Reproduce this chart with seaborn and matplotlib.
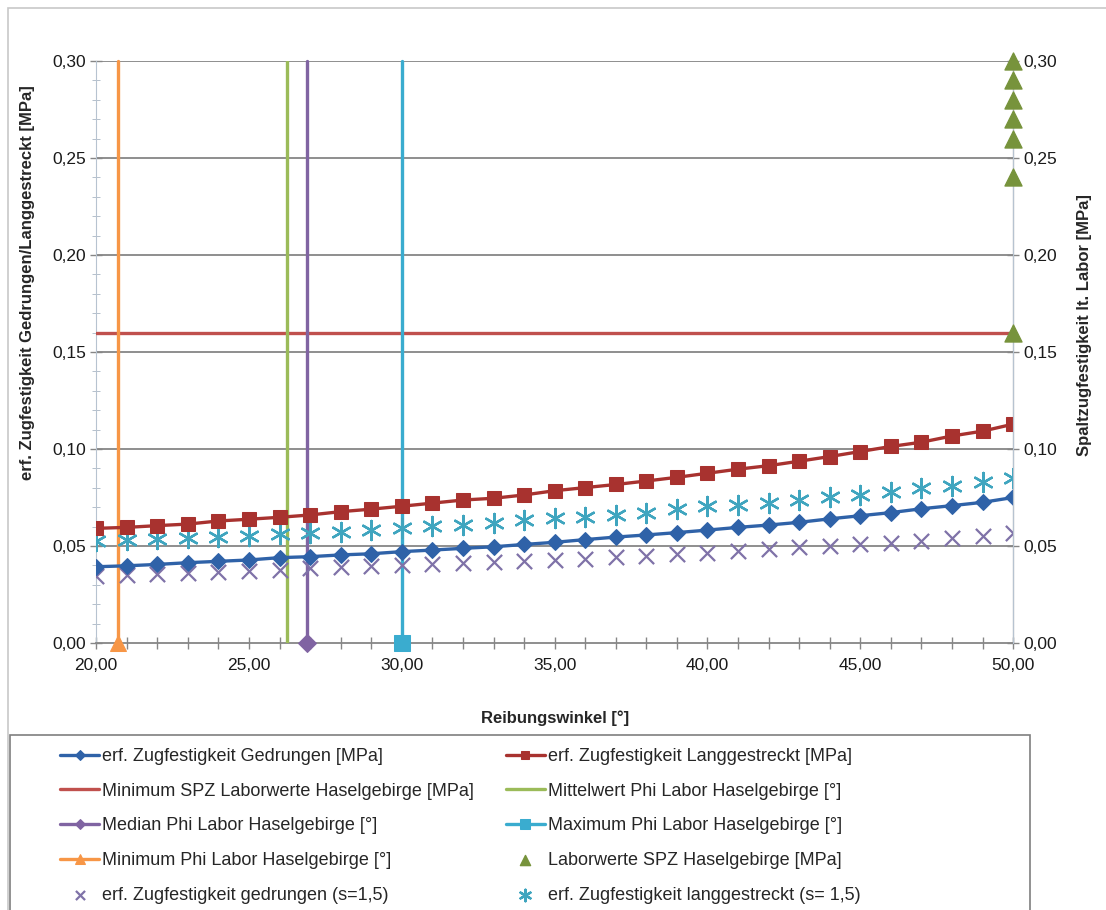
import numpy as np
import pandas as pd
import seaborn as sns
from matplotlib import pyplot as plt
from matplotlib.ticker import MultipleLocator, FuncFormatter
from matplotlib.patches import Rectangle

# friction angle [deg]
winkel = list(range(20, 51))

# required tensile strength, compact / elongated [MPa]
zug_gedrungen = [0.0393, 0.0398, 0.0405, 0.0414, 0.0421, 0.0428, 0.0440, 0.0445, 0.0454, 0.0460,
                 0.0471, 0.0479, 0.0488, 0.0496, 0.0508, 0.0519, 0.0533, 0.0546, 0.0557, 0.0569,
                 0.0582, 0.0596, 0.0608, 0.0622, 0.0640, 0.0656, 0.0672, 0.0692, 0.0708, 0.0725,
                 0.0750]
zug_langgestreckt = [0.0591, 0.0596, 0.0605, 0.0613, 0.0629, 0.0638, 0.0648, 0.0660, 0.0677, 0.0690,
                     0.0705, 0.0721, 0.0737, 0.0746, 0.0763, 0.0785, 0.0801, 0.0817, 0.0835, 0.0854,
                     0.0875, 0.0896, 0.0914, 0.0937, 0.0961, 0.0987, 0.1013, 0.1035, 0.1067, 0.1092,
                     0.1128]
# with safety factor s=1,5
zug_gedrungen_s = [0.0345, 0.0350, 0.0356, 0.0363, 0.0368, 0.0373, 0.0377, 0.0385, 0.0392, 0.0397,
                   0.0402, 0.0407, 0.0414, 0.0419, 0.0424, 0.0428, 0.0433, 0.0442, 0.0447, 0.0457,
                   0.0466, 0.0476, 0.0483, 0.0493, 0.0500, 0.0510, 0.0517, 0.0527, 0.0540, 0.0552,
                   0.0566]
zug_langgestreckt_s = [0.0528, 0.0531, 0.0534, 0.0540, 0.0548, 0.0552, 0.0562, 0.0566, 0.0574, 0.0583,
                       0.0595, 0.0603, 0.0610, 0.0620, 0.0634, 0.0643, 0.0651, 0.0660, 0.0672, 0.0690,
                       0.0705, 0.0711, 0.0720, 0.0737, 0.0754, 0.0763, 0.0780, 0.0797, 0.0811, 0.0832,
                       0.0849]

# lab values
min_spz = 0.16
phi_mittel = 26.25
phi_median = 26.9
phi_max = 30.0
phi_min = 20.7
labor_spz = [0.30, 0.29, 0.28, 0.27, 0.26, 0.24, 0.16]
labor_x = [50] * len(labor_spz)

x_lim = (20, 50)
y_lim = (0, 0.30)

df = pd.DataFrame({"winkel": winkel,
                   "ged": zug_gedrungen, "lang": zug_langgestreckt,
                   "ged_s": zug_gedrungen_s, "lang_s": zug_langgestreckt_s})

sns.set_style("ticks")
plt.rcParams["font.family"] = ["Liberation Sans", "DejaVu Sans"]

fig = plt.figure(figsize=(11.06, 9.10), dpi=100)
ax = fig.add_axes([0.087, 0.2934, 0.829, 0.6396])
ax2 = ax.twinx()

gray = "#868686"
for y in np.arange(0.05, 0.301, 0.05):
    ax.axhline(y, color=gray, lw=1.3, zorder=0)

c_blue = "#2F62A8"
c_red = "#A8322F"
lw = 2.4

sns.lineplot(data=df, x="winkel", y="ged", ax=ax, color=c_blue, lw=lw, marker="D",
             markersize=8, markeredgecolor=c_blue, estimator=None,
             label="erf. Zugfestigkeit Gedrungen [MPa]", zorder=5)
sns.lineplot(data=df, x="winkel", y="lang", ax=ax, color=c_red, lw=lw, marker="s",
             markersize=10, markeredgecolor=c_red, estimator=None,
             label="erf. Zugfestigkeit Langgestreckt [MPa]", zorder=5)
sns.lineplot(x=list(x_lim), y=[min_spz, min_spz], ax=ax, color="#C0504D", lw=lw,
             estimator=None, label="Minimum SPZ Laborwerte Haselgebirge [MPa]", zorder=4)
sns.lineplot(x=[phi_mittel, phi_mittel], y=list(y_lim), ax=ax, color="#9BBB59", lw=lw,
             estimator=None, sort=False, label="Mittelwert Phi Labor Haselgebirge [°]", zorder=4)
sns.lineplot(x=[phi_median, phi_median], y=list(y_lim), ax=ax, color="#8064A2", lw=lw,
             marker="D", markersize=9, markevery=[0], markeredgecolor="#8064A2", clip_on=False,
             estimator=None, sort=False, label="Median Phi Labor Haselgebirge [°]", zorder=4)
sns.lineplot(x=[phi_max, phi_max], y=list(y_lim), ax=ax, color="#3AACCF", lw=lw,
             marker="s", markersize=11, markevery=[0], markeredgecolor="#3AACCF", clip_on=False,
             estimator=None, sort=False, label="Maximum Phi Labor Haselgebirge [°]", zorder=4)
sns.lineplot(x=[phi_min, phi_min], y=list(y_lim), ax=ax, color="#F79646", lw=lw,
             marker="^", markersize=11, markevery=[0], markeredgecolor="#F79646", clip_on=False,
             estimator=None, sort=False, label="Minimum Phi Labor Haselgebirge [°]", zorder=4)
sns.scatterplot(data=df, x="winkel", y="ged_s", ax=ax, marker="x", s=120, color="#7F72A8",
                linewidth=1.6, label="erf. Zugfestigkeit gedrungen (s=1,5)", zorder=4)
sns.scatterplot(data=df, x="winkel", y="lang_s", ax=ax, marker=(6, 2, 0), s=190, color="#3FA5BF",
                linewidth=1.7, label="erf. Zugfestigkeit langgestreckt (s= 1,5)", zorder=4)

sns.scatterplot(x=labor_x, y=labor_spz, ax=ax2, marker="^", s=150, color="#77933C",
                edgecolor="#77933C", clip_on=False, zorder=6,
                label="Laborwerte SPZ Haselgebirge [MPa]")

fmt = FuncFormatter(lambda v, p: f"{v:.2f}".replace(".", ","))
for a in (ax, ax2):
    a.set_ylim(*y_lim)
    a.set_xlim(*x_lim)
    a.yaxis.set_major_locator(MultipleLocator(0.05))
    a.yaxis.set_major_formatter(fmt)
    a.tick_params(axis="y", labelsize=12.5, direction="inout", length=8, width=1, colors=gray,
                  labelcolor="#1a1a1a")
    a.spines["top"].set_visible(False)
ax.yaxis.set_minor_locator(MultipleLocator(0.01))
ax.tick_params(axis="y", which="minor", direction="inout", length=6, colors="#A9B6C4")
ax.xaxis.set_major_locator(MultipleLocator(5))
ax.xaxis.set_minor_locator(MultipleLocator(1))
ax.xaxis.set_major_formatter(fmt)
ax.tick_params(axis="x", labelsize=12.5, direction="inout", length=9, width=1, colors=gray,
               labelcolor="#1a1a1a", pad=6)
ax.tick_params(axis="x", which="minor", direction="inout", length=8, width=1, colors=gray)
ax.spines["left"].set_color("#B7C3D0")
ax.spines["bottom"].set_color(gray)
ax.spines["bottom"].set_linewidth(1.3)
ax2.spines["right"].set_color("#B7C3D0")
ax2.spines["left"].set_visible(False)
ax2.spines["bottom"].set_visible(False)

ax.set_xlabel("Reibungswinkel [°]", fontsize=12, fontweight="bold")
ax.xaxis.set_label_coords(0.5, -0.115)
ax.set_ylabel("erf. Zugfestigkeit Gedrungen/Langgestreckt [MPa]", fontsize=12,
              fontweight="bold")
ax.yaxis.set_label_coords(-0.067, 0.62)
ax2.set_ylabel("Spaltzugfestigkeit lt. Labor [MPa]", fontsize=12, fontweight="bold")
ax2.yaxis.set_label_coords(1.070, 0.546)

h1, l1 = ax.get_legend_handles_labels()
h2, l2 = ax2.get_legend_handles_labels()
for a in (ax, ax2):
    if a.get_legend():
        a.get_legend().remove()
hd = dict(zip(l1 + l2, h1 + h2))
order = ["erf. Zugfestigkeit Gedrungen [MPa]", "Minimum SPZ Laborwerte Haselgebirge [MPa]",
         "Median Phi Labor Haselgebirge [°]", "Minimum Phi Labor Haselgebirge [°]",
         "erf. Zugfestigkeit gedrungen (s=1,5)",
         "erf. Zugfestigkeit Langgestreckt [MPa]", "Mittelwert Phi Labor Haselgebirge [°]",
         "Maximum Phi Labor Haselgebirge [°]", "Laborwerte SPZ Haselgebirge [MPa]",
         "erf. Zugfestigkeit langgestreckt (s= 1,5)"]
fig.legend([hd[k] for k in order], order, ncol=2, loc="upper left",
           bbox_to_anchor=(0.054, 0.178), prop={"size": 13}, frameon=False,
           handlelength=2.2, handletextpad=0.15, columnspacing=1.75,
           markerscale=0.6, labelspacing=0.98, borderaxespad=0.0, borderpad=0.0)

# legend box and outer chart frame
fig.patches.append(Rectangle((0.009, -0.01), 0.922, 0.202, transform=fig.transFigure,
                             fill=False, edgecolor="#7F7F7F", lw=1.2))
fig.patches.append(Rectangle((0.007, -0.01), 1.0, 1.001, transform=fig.transFigure,
                             fill=False, edgecolor="#C8C8C8", lw=1.2))

fig.savefig("out.png", dpi=100)
